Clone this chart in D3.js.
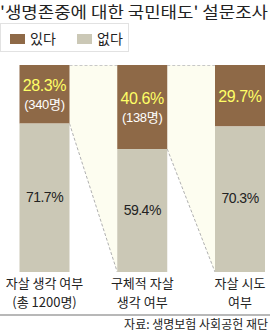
<!DOCTYPE html>
<html>
<head>
<meta charset="utf-8">
<script src="https://cdn.jsdelivr.net/npm/d3@7"></script>
<style>
  body { margin: 0; background: #fff; }
  svg { display: block; font-family: "Noto Sans CJK KR", "Noto Sans", sans-serif; }
  .num { font-family: "Liberation Sans", "Noto Sans CJK KR", sans-serif; }
</style>
</head>
<body>
<div id="chart"></div>
<script>
const categories = ['자살 생각 여부', '구체적 자살 생각 여부', '자살 시도 여부'];
const catLines = [['자살 생각 여부', '(총 1200명)'], ['구체적 자살', '생각 여부'], ['자살 시도', '여부']];
const yesValues = [28.3, 40.6, 29.7];
const noValues = [71.7, 59.4, 70.3];
const yesCounts = ['(340명)', '(138명)', null];
const legendLabels = ['있다', '없다'];

const W = 270, H = 332;
const colors = { yes: '#8e6947', no: '#cbc8b6' };
const barW = 50;

const svg = d3.select('#chart').append('svg')
  .attr('width', W)
  .attr('height', H);

const x = d3.scalePoint()
  .domain(categories)
  .range([44.5, 240]);

const y = d3.scaleLinear()
  .domain([0, 100])
  .range([65, 272]);

// title
svg.append('text')
  .attr('x', 0)
  .attr('y', 18)
  .attr('font-size', 16)
  .attr('fill', '#222')
  .attr('textLength', 268)
  .attr('lengthAdjust', 'spacingAndGlyphs')
  .text("'생명존중에 대한 국민태도' 설문조사");

// legend
svg.append('rect')
  .attr('x', 0.5).attr('y', 23.5)
  .attr('width', 128).attr('height', 28)
  .attr('fill', '#fff')
  .attr('stroke', '#e2e2e2');

const lg = svg.selectAll('.legend')
  .data(legendLabels)
  .enter().append('g')
  .attr('class', 'legend')
  .attr('transform', (d, i) => `translate(${10 + i * 67}, 34)`);

lg.append('rect')
  .attr('width', 15).attr('height', 10)
  .attr('fill', (d, i) => i === 0 ? colors.yes : colors.no);

lg.append('text')
  .attr('x', 20).attr('y', 10)
  .attr('font-size', 14)
  .attr('fill', '#222')
  .text(d => d);

// connectors between bars
for (let i = 0; i < categories.length - 1; i++) {
  const x0 = x(categories[i]) + barW / 2;
  const x1 = x(categories[i + 1]) - barW / 2;
  const pts = [[x0, y(0)], [x1, y(0)], [x1, y(100)], [x0, y(yesValues[i])]];
  svg.append('path')
    .attr('d', d3.line()(pts) + 'Z')
    .attr('fill', '#fdfdf0');
  svg.append('path')
    .attr('d', d3.line()([[x0, y(0) + 0.5], [x1, y(0) + 0.5]]))
    .attr('stroke', '#c8c8c8')
    .attr('stroke-dasharray', '3,2');
  svg.append('path')
    .attr('d', d3.line()([[x0, y(yesValues[i])], [x1, y(100)]]))
    .attr('stroke', '#b0b0b0')
    .attr('stroke-dasharray', '3,2');
}

const bars = svg.selectAll('.bar')
  .data(categories)
  .enter().append('g')
  .attr('class', 'bar');

bars.append('rect')
  .attr('x', d => x(d) - barW / 2)
  .attr('y', y(0))
  .attr('width', barW)
  .attr('height', (d, i) => y(yesValues[i]) - y(0))
  .attr('fill', colors.yes);

bars.append('rect')
  .attr('x', d => x(d) - barW / 2)
  .attr('y', (d, i) => y(yesValues[i]))
  .attr('width', barW)
  .attr('height', (d, i) => y(100) - y(yesValues[i]))
  .attr('fill', colors.no);

// value labels
bars.each(function(d, i) {
  const g = d3.select(this);
  const cy = (y(0) + y(yesValues[i])) / 2;
  const hasCount = yesCounts[i] !== null;
  g.append('text')
    .attr('class', 'num')
    .attr('x', x(d))
    .attr('y', hasCount ? cy - 3.5 : cy + 6)
    .attr('text-anchor', 'middle')
    .attr('font-size', 16)
    .attr('letter-spacing', -0.4)
    .attr('fill', '#ffff66')
    .text(yesValues[i].toFixed(1) + '%');
  if (hasCount) {
    g.append('text')
      .attr('class', 'num')
      .attr('x', x(d))
      .attr('y', cy + 15)
      .attr('text-anchor', 'middle')
      .attr('font-size', 13)
      .attr('letter-spacing', -0.3)
      .attr('fill', '#fff')
      .text(yesCounts[i]);
  }
  const ny = (y(yesValues[i]) + y(100)) / 2;
  g.append('text')
    .attr('class', 'num')
    .attr('x', x(d))
    .attr('y', ny + 4)
    .attr('text-anchor', 'middle')
    .attr('font-size', 14)
    .attr('letter-spacing', -0.5)
    .attr('fill', '#222')
    .text(noValues[i].toFixed(1) + '%');
});

// category labels
bars.each(function(d, i) {
  const t = d3.select(this).append('text')
    .attr('text-anchor', 'middle')
    .attr('font-size', 13)
    .attr('fill', '#222');
  catLines[i].forEach((line, j) => {
    t.append('tspan')
      .attr('x', x(d))
      .attr('y', 288 + j * 19)
      .text(line);
  });
});

// bottom rule & source
svg.append('line')
  .attr('x1', 0).attr('x2', W)
  .attr('y1', 315).attr('y2', 315)
  .attr('stroke', '#b8b8b8')
  .attr('stroke-width', 2);

svg.append('text')
  .attr('x', 268)
  .attr('y', 329)
  .attr('text-anchor', 'end')
  .attr('font-size', 12)
  .attr('fill', '#222')
  .text('자료: 생명보험 사회공헌 재단');
</script>
</body>
</html>
